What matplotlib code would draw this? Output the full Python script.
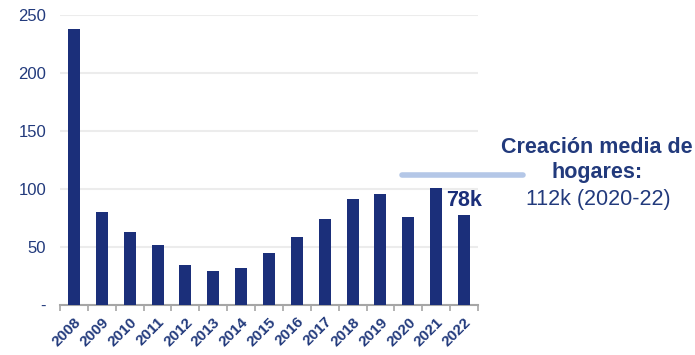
import matplotlib
matplotlib.use("Agg")
import matplotlib.pyplot as plt
from matplotlib.lines import Line2D
import numpy as np

years = [str(y) for y in range(2008, 2023)]
hogares = [238, 80, 63, 52, 34.5, 29, 32, 44.5, 59, 74, 91.5, 96, 75.5, 100.5, 78]
y_ticks = [0, 50, 100, 150, 200, 250]
y_labels = ['-', '50', '100', '150', '200', '250']
last_label = '78k'
note_title = 'Creación media de\nhogares:'
note_value = '112k (2020-22)'

navy = '#1b2f7a'
text_col = '#223a7c'

plt.rcParams['font.family'] = ['Liberation Sans', 'DejaVu Sans']

fig = plt.figure(figsize=(6.95, 3.55), dpi=100)
ax = fig.add_axes([0.0863, 0.1408, 0.6015, 0.8169])

x = np.arange(len(years))
ax.bar(x, hogares, width=0.43, color=navy, zorder=3)
ax.set_xlim(-0.5, len(years) - 0.5)
ax.set_ylim(0, 250)

ax.set_yticks(y_ticks)
ax.set_yticklabels(y_labels, color=text_col, fontsize=12)
ax.tick_params(axis='y', length=0, pad=10)
ax.yaxis.grid(True, color='#ececec', linewidth=1.5, zorder=0)

ax.set_xticks(x)
ax.set_xticklabels(years, rotation=45, ha='right', rotation_mode='anchor',
                   fontsize=11, fontweight='bold', color=text_col)
ax.tick_params(axis='x', which='major', length=0, pad=7)
ax.set_xticks(np.arange(-0.5, len(years), 1), minor=True)
ax.tick_params(axis='x', which='minor', length=4, color='#a6a6a6', width=1.2, direction='out')

for s in ['top', 'right', 'left']:
    ax.spines[s].set_visible(False)
ax.spines['bottom'].set_color('#a6a6a6')
ax.spines['bottom'].set_linewidth(1.5)

ax.text(x[-1], hogares[-1] + 12.5, last_label, ha='center', va='center',
        fontsize=15.5, fontweight='bold', color=navy)

fig.add_artist(Line2D([402 / 695, 523 / 695], [1 - 175 / 355] * 2,
                      color='#b4c7e7', linewidth=4, solid_capstyle='round'))
fig.text(597 / 695, 1 - 160 / 355, note_title, ha='center', va='center',
         fontsize=15.5, fontweight='bold', color=text_col, linespacing=1.25)
fig.text(598 / 695, 1 - 200 / 355, note_value, ha='center', va='center',
         fontsize=15.5, color=text_col)

fig.savefig('out.png', dpi=100)
